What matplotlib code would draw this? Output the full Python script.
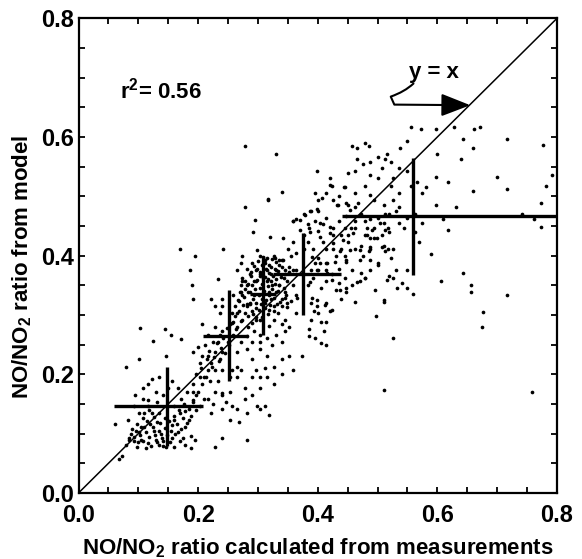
import matplotlib
matplotlib.use("Agg")
import matplotlib.pyplot as plt
from matplotlib.patches import FancyArrowPatch
from matplotlib.path import Path
import numpy as np

plt.rcParams['font.family'] = ['Liberation Sans', 'DejaVu Sans']
plt.rcParams['mathtext.default'] = 'regular'

x_meas = [
    0.278, 0.330, 0.316, 0.398, 0.278, 0.169, 0.195, 0.186, 0.189, 0.242, 0.274, 0.103, 0.124, 0.144,
    0.155, 0.172, 0.079, 0.101, 0.556, 0.572, 0.597, 0.628, 0.662, 0.671, 0.643, 0.659, 0.717, 0.777,
    0.640, 0.600, 0.618, 0.597, 0.699, 0.782, 0.792, 0.717, 0.659, 0.597, 0.631, 0.609, 0.618, 0.742,
    0.773, 0.773, 0.761, 0.590, 0.643, 0.606, 0.656, 0.656, 0.717, 0.677, 0.674, 0.758, 0.510, 0.525,
    0.497, 0.510, 0.559, 0.550, 0.532, 0.541, 0.463, 0.473, 0.479, 0.519, 0.501, 0.517, 0.522, 0.544,
    0.575, 0.550, 0.535, 0.535, 0.522, 0.522, 0.516, 0.537, 0.550, 0.507, 0.488, 0.479, 0.485, 0.457,
    0.466, 0.501, 0.513, 0.451, 0.463, 0.420, 0.423, 0.444, 0.414, 0.389, 0.401, 0.377, 0.364, 0.432,
    0.451, 0.463, 0.448, 0.414, 0.426, 0.455, 0.479, 0.488, 0.504, 0.517, 0.507, 0.494, 0.482, 0.473,
    0.463, 0.451, 0.439, 0.430, 0.448, 0.485, 0.463, 0.445, 0.436, 0.414, 0.401, 0.408, 0.401, 0.386,
    0.377, 0.392, 0.414, 0.405, 0.430, 0.436, 0.439, 0.414, 0.423, 0.401, 0.414, 0.405, 0.411, 0.395,
    0.389, 0.386, 0.405, 0.414, 0.386, 0.374, 0.340, 0.327, 0.312, 0.315, 0.303, 0.340, 0.330, 0.346,
    0.296, 0.290, 0.271, 0.265, 0.278, 0.253, 0.240, 0.247, 0.228, 0.219, 0.206, 0.197, 0.216, 0.203,
    0.191, 0.200, 0.212, 0.225, 0.216, 0.228, 0.206, 0.191, 0.222, 0.234, 0.240, 0.228, 0.237, 0.240,
    0.259, 0.262, 0.271, 0.281, 0.274, 0.265, 0.271, 0.281, 0.290, 0.303, 0.312, 0.327, 0.340, 0.355,
    0.364, 0.352, 0.364, 0.343, 0.358, 0.389, 0.383, 0.392, 0.364, 0.355, 0.340, 0.327, 0.333, 0.318,
    0.327, 0.318, 0.303, 0.346, 0.352, 0.340, 0.389, 0.398, 0.364, 0.240, 0.259, 0.250, 0.265, 0.271,
    0.281, 0.290, 0.256, 0.240, 0.234, 0.312, 0.303, 0.318, 0.299, 0.281, 0.268, 0.256, 0.240, 0.240,
    0.228, 0.281, 0.188, 0.209, 0.203, 0.191, 0.178, 0.185, 0.178, 0.188, 0.175, 0.166, 0.160, 0.170,
    0.160, 0.172, 0.182, 0.166, 0.157, 0.147, 0.150, 0.135, 0.123, 0.116, 0.129, 0.141, 0.132, 0.116,
    0.107, 0.116, 0.123, 0.135, 0.144, 0.132, 0.120, 0.107, 0.098, 0.110, 0.126, 0.138, 0.129, 0.116,
    0.104, 0.092, 0.098, 0.085, 0.079, 0.073, 0.067, 0.082, 0.061, 0.089, 0.101, 0.135, 0.147, 0.157,
    0.160, 0.113, 0.141, 0.154, 0.170, 0.178, 0.194, 0.101, 0.092, 0.095, 0.107,
    0.296, 0.303, 0.309, 0.296, 0.290, 0.284, 0.293, 0.303, 0.315, 0.321, 0.330, 0.315, 0.324, 0.336,
    0.318, 0.330, 0.306, 0.296, 0.287, 0.281, 0.278, 0.290, 0.296, 0.312, 0.321, 0.306, 0.318, 0.336,
    0.346, 0.287, 0.278, 0.271, 0.274, 0.268, 0.265, 0.256, 0.253, 0.265, 0.274, 0.284, 0.293, 0.281,
    0.303, 0.315, 0.324, 0.303, 0.290, 0.346, 0.349, 0.340,
    0.206, 0.216, 0.222, 0.228, 0.237, 0.240, 0.234, 0.237, 0.228, 0.213, 0.203, 0.191, 0.191, 0.197,
    0.216, 0.225, 0.222, 0.240, 0.253, 0.265, 0.278, 0.290, 0.303, 0.327, 0.340, 0.358, 0.352, 0.315,
    0.303, 0.265, 0.253,
    0.426, 0.439, 0.451, 0.445, 0.436, 0.463, 0.473, 0.482, 0.494, 0.501, 0.513, 0.510, 0.519, 0.488,
    0.476, 0.488, 0.488, 0.457, 0.445, 0.448, 0.457, 0.470, 0.414, 0.423, 0.401, 0.395, 0.426, 0.414,
    0.408, 0.395, 0.383, 0.358, 0.371, 0.383, 0.377, 0.401, 0.426, 0.436, 0.463, 0.479, 0.488, 0.494,
    0.510, 0.525, 0.531, 0.519, 0.535, 0.563, 0.563, 0.569, 0.575, 0.566, 0.581, 0.550, 0.556, 0.501,
    0.525, 0.535, 0.488, 0.476, 0.466, 0.488, 0.510, 0.525, 0.531, 0.525, 0.550,
]
y_model = [
    0.584, 0.572, 0.496, 0.543, 0.482, 0.411, 0.400, 0.375, 0.351, 0.411, 0.399, 0.278, 0.256, 0.276,
    0.267, 0.259, 0.213, 0.225, 0.617, 0.614, 0.614, 0.617, 0.614, 0.617, 0.596, 0.581, 0.596, 0.587,
    0.563, 0.571, 0.524, 0.533, 0.533, 0.518, 0.536, 0.512, 0.509, 0.485, 0.482, 0.461, 0.443, 0.470,
    0.488, 0.449, 0.461, 0.403, 0.370, 0.357, 0.351, 0.339, 0.333, 0.305, 0.280, 0.171, 0.173, 0.261,
    0.298, 0.322, 0.336, 0.345, 0.345, 0.354, 0.322, 0.370, 0.363, 0.366, 0.387, 0.411, 0.396, 0.447,
    0.455, 0.464, 0.482, 0.506, 0.518, 0.557, 0.572, 0.581, 0.593, 0.548, 0.536, 0.590, 0.584, 0.584,
    0.581, 0.566, 0.563, 0.539, 0.542, 0.530, 0.518, 0.515, 0.506, 0.476, 0.476, 0.470, 0.461, 0.485,
    0.485, 0.482, 0.467, 0.464, 0.447, 0.447, 0.458, 0.461, 0.455, 0.447, 0.435, 0.429, 0.435, 0.417,
    0.411, 0.423, 0.411, 0.399, 0.390, 0.408, 0.447, 0.399, 0.378, 0.387, 0.396, 0.423, 0.441, 0.447,
    0.435, 0.411, 0.357, 0.345, 0.342, 0.354, 0.327, 0.321, 0.309, 0.303, 0.288, 0.288, 0.273, 0.261,
    0.291, 0.276, 0.252, 0.249, 0.264, 0.231, 0.225, 0.213, 0.210, 0.231, 0.243, 0.255, 0.267, 0.273,
    0.207, 0.195, 0.207, 0.195, 0.177, 0.171, 0.165, 0.153, 0.171, 0.189, 0.183, 0.201, 0.207, 0.219,
    0.237, 0.246, 0.249, 0.255, 0.267, 0.279, 0.285, 0.327, 0.327, 0.360, 0.327, 0.315, 0.303, 0.315,
    0.333, 0.315, 0.339, 0.351, 0.363, 0.375, 0.387, 0.378, 0.387, 0.399, 0.393, 0.399, 0.393, 0.399,
    0.405, 0.381, 0.375, 0.363, 0.351, 0.375, 0.351, 0.363, 0.333, 0.324, 0.315, 0.315, 0.303, 0.309,
    0.291, 0.282, 0.291, 0.291, 0.279, 0.285, 0.321, 0.315, 0.303, 0.273, 0.288, 0.255, 0.237, 0.255,
    0.243, 0.225, 0.207, 0.207, 0.189, 0.147, 0.141, 0.132, 0.147, 0.135, 0.120, 0.147, 0.168, 0.093,
    0.078, 0.090, 0.075, 0.159, 0.147, 0.153, 0.138, 0.123, 0.111, 0.096, 0.093, 0.102, 0.123, 0.135,
    0.147, 0.159, 0.171, 0.177, 0.189, 0.231, 0.177, 0.195, 0.192, 0.183, 0.171, 0.165, 0.153, 0.156,
    0.159, 0.147, 0.135, 0.135, 0.126, 0.120, 0.117, 0.126, 0.117, 0.111, 0.105, 0.099, 0.090, 0.084,
    0.090, 0.087, 0.078, 0.093, 0.081, 0.063, 0.057, 0.123, 0.117, 0.108, 0.102, 0.081, 0.078, 0.093,
    0.078, 0.075, 0.087, 0.105, 0.087, 0.081, 0.090, 0.135, 0.147, 0.165, 0.177,
    0.375, 0.369, 0.363, 0.357, 0.351, 0.339, 0.333, 0.345, 0.357, 0.369, 0.375, 0.375, 0.351, 0.351,
    0.339, 0.339, 0.327, 0.321, 0.321, 0.315, 0.303, 0.306, 0.297, 0.321, 0.327, 0.384, 0.384, 0.384,
    0.375, 0.369, 0.357, 0.351, 0.333, 0.324, 0.303, 0.303, 0.285, 0.279, 0.291, 0.279, 0.273, 0.264,
    0.267, 0.261, 0.249, 0.255, 0.255, 0.339, 0.321, 0.327,
    0.231, 0.231, 0.219, 0.207, 0.225, 0.237, 0.255, 0.267, 0.237, 0.195, 0.195, 0.183, 0.171, 0.165,
    0.159, 0.150, 0.135, 0.141, 0.123, 0.141, 0.159, 0.165, 0.177, 0.183, 0.201, 0.207, 0.231, 0.195,
    0.195, 0.213, 0.195,
    0.435, 0.435, 0.435, 0.447, 0.458, 0.458, 0.470, 0.447, 0.447, 0.464, 0.470, 0.455, 0.440, 0.429,
    0.399, 0.393, 0.375, 0.375, 0.363, 0.345, 0.351, 0.357, 0.375, 0.369, 0.375, 0.387, 0.411, 0.411,
    0.453, 0.458, 0.453, 0.458, 0.444, 0.423, 0.411, 0.494, 0.494, 0.500, 0.506, 0.518, 0.503, 0.494,
    0.485, 0.494, 0.476, 0.470, 0.455, 0.470, 0.440, 0.423, 0.506, 0.524, 0.515, 0.542, 0.518, 0.530,
    0.530, 0.548, 0.557, 0.554, 0.563, 0.411, 0.417, 0.411, 0.375, 0.363, 0.375,
]

# more points read from close-ups: upper band, dense core, low cluster, lower band
pts_upper = [
    (0.295, 0.460), (0.317, 0.494), (0.340, 0.508), (0.359, 0.459), (0.370, 0.460), (0.379, 0.468),
    (0.387, 0.476), (0.398, 0.478), (0.407, 0.497), (0.395, 0.505), (0.420, 0.519), (0.446, 0.516),
    (0.404, 0.455), (0.420, 0.449), (0.434, 0.485), (0.448, 0.488), (0.468, 0.488), (0.454, 0.477),
    (0.342, 0.429), (0.359, 0.423), (0.387, 0.440), (0.404, 0.432), (0.420, 0.438), (0.426, 0.421),
    (0.443, 0.426), (0.459, 0.438), (0.479, 0.435), (0.490, 0.443), (0.499, 0.429), (0.512, 0.443),
    (0.507, 0.415), (0.487, 0.415), (0.471, 0.410), (0.454, 0.410), (0.437, 0.407), (0.448, 0.393),
    (0.429, 0.390), (0.415, 0.387), (0.404, 0.387), (0.390, 0.398), (0.398, 0.376), (0.471, 0.393),
    (0.479, 0.362), (0.465, 0.356), (0.501, 0.384), (0.512, 0.407), (0.437, 0.342), (0.448, 0.339),
    (0.423, 0.359), (0.415, 0.370), (0.387, 0.356), (0.398, 0.325), (0.412, 0.317), (0.420, 0.306),
    (0.390, 0.328), (0.359, 0.376), (0.342, 0.393), (0.351, 0.412), (0.320, 0.432), (0.329, 0.396),
    (0.312, 0.387), (0.298, 0.410), (0.292, 0.440), (0.515, 0.359), (0.496, 0.342), (0.510, 0.325),
    (0.365, 0.328), (0.393, 0.306), (0.345, 0.328), (0.348, 0.314),
]
pts_core = [
    (0.283, 0.352), (0.286, 0.338), (0.289, 0.366), (0.291, 0.327), (0.293, 0.382), (0.295, 0.344),
    (0.297, 0.312), (0.299, 0.359), (0.300, 0.391), (0.302, 0.333), (0.304, 0.373), (0.305, 0.318),
    (0.307, 0.352), (0.309, 0.386), (0.310, 0.341), (0.312, 0.364), (0.313, 0.326), (0.315, 0.396),
    (0.316, 0.348), (0.318, 0.371), (0.319, 0.333), (0.321, 0.358), (0.322, 0.381), (0.324, 0.344),
    (0.325, 0.366), (0.327, 0.329), (0.328, 0.353), (0.330, 0.389), (0.331, 0.361), (0.333, 0.340),
    (0.334, 0.374), (0.336, 0.350), (0.337, 0.322), (0.339, 0.364), (0.341, 0.381), (0.343, 0.346),
    (0.345, 0.369), (0.347, 0.334), (0.349, 0.357), (0.352, 0.372), (0.287, 0.318), (0.292, 0.302),
    (0.296, 0.292), (0.301, 0.308), (0.306, 0.296), (0.311, 0.312), (0.316, 0.302), (0.320, 0.316),
    (0.326, 0.307), (0.332, 0.318), (0.288, 0.372), (0.294, 0.358), (0.298, 0.378), (0.303, 0.366),
    (0.308, 0.398), (0.313, 0.377), (0.317, 0.361), (0.323, 0.394), (0.329, 0.377), (0.335, 0.392),
    (0.279, 0.344), (0.276, 0.330), (0.281, 0.318), (0.274, 0.358), (0.284, 0.298), (0.290, 0.286),
    (0.270, 0.338), (0.267, 0.326),
]
pts_low = [
    (0.102, 0.098), (0.108, 0.088), (0.112, 0.102), (0.118, 0.094), (0.121, 0.080), (0.125, 0.112),
    (0.128, 0.098), (0.131, 0.086), (0.134, 0.104), (0.137, 0.118), (0.139, 0.092), (0.142, 0.080),
    (0.145, 0.110), (0.148, 0.098), (0.151, 0.122), (0.153, 0.086), (0.156, 0.114), (0.159, 0.130),
    (0.162, 0.100), (0.165, 0.116), (0.168, 0.140), (0.171, 0.108), (0.174, 0.126), (0.177, 0.150),
    (0.181, 0.118), (0.184, 0.142), (0.188, 0.130), (0.192, 0.156), (0.196, 0.140), (0.200, 0.170),
    (0.096, 0.104), (0.093, 0.095), (0.099, 0.086), (0.105, 0.112), (0.115, 0.122), (0.127, 0.128),
    (0.118, 0.140), (0.110, 0.134), (0.088, 0.100), (0.084, 0.090),
]
pts_mid = [
    (0.205, 0.210), (0.210, 0.196), (0.214, 0.226), (0.218, 0.240), (0.223, 0.212), (0.226, 0.230),
    (0.231, 0.252), (0.235, 0.222), (0.238, 0.244), (0.242, 0.262), (0.245, 0.236), (0.248, 0.278),
    (0.252, 0.250), (0.256, 0.286), (0.258, 0.266), (0.262, 0.298), (0.264, 0.276), (0.268, 0.306),
    (0.272, 0.290), (0.275, 0.316),
]

# binned means with spread (crosses)
bin_x = [0.148, 0.252, 0.308, 0.375, 0.560]
bin_y = [0.147, 0.265, 0.335, 0.369, 0.466]
bin_x_lo = [0.059, 0.208, 0.287, 0.325, 0.440]
bin_x_hi = [0.208, 0.284, 0.330, 0.438, 0.800]
bin_y_lo = [0.080, 0.188, 0.267, 0.300, 0.367]
bin_y_hi = [0.213, 0.342, 0.400, 0.438, 0.564]

extra = np.array(pts_upper + pts_core + pts_low + pts_mid)
xs = np.concatenate([x_meas, extra[:, 0]])
ys = np.concatenate([y_model, extra[:, 1]])

fig = plt.figure(figsize=(5.82, 5.59), dpi=100)
ax = fig.add_axes([0.1349, 0.1181, 0.8222, 0.8492])

ax.scatter(xs, ys, s=7, c='black', marker='o', linewidths=0, zorder=2)
ax.plot([0, 0.8], [0, 0.8], color='black', lw=1.1, zorder=3)

bx = np.array(bin_x)
by = np.array(bin_y)
xerr = [bx - np.array(bin_x_lo), np.array(bin_x_hi) - bx]
yerr = [by - np.array(bin_y_lo), np.array(bin_y_hi) - by]
ax.errorbar(bx, by, xerr=xerr, yerr=yerr, fmt='none', ecolor='black',
            elinewidth=2.4, capsize=0, zorder=4)

ax.set_xlim(0, 0.8)
ax.set_ylim(0, 0.8)
ax.set_xticks([0.0, 0.2, 0.4, 0.6, 0.8])
ax.set_yticks([0.0, 0.2, 0.4, 0.6, 0.8])
ax.set_xticks(np.arange(0, 0.81, 0.05), minor=True)
ax.set_yticks(np.arange(0, 0.81, 0.05), minor=True)
ax.set_xticklabels(['0.0', '0.2', '0.4', '0.6', '0.8'])
ax.set_yticklabels(['0.0', '0.2', '0.4', '0.6', '0.8'])
ax.tick_params(which='both', direction='in', top=True, right=True,
               length=4.5, width=1.3, labelsize=17)
ax.tick_params(axis='x', pad=8)
ax.tick_params(axis='y', pad=3)
for lab in ax.get_xticklabels() + ax.get_yticklabels():
    lab.set_fontweight('bold')
for sp in ax.spines.values():
    sp.set_linewidth(1.6)

ax.set_xlabel('NO/NO$_2$ ratio calculated from measurements', fontsize=16, fontweight='bold', labelpad=7)
ax.set_ylabel('NO/NO$_2$ ratio from model', fontsize=16, fontweight='bold')
ax.yaxis.set_label_coords(-0.094, 0.476)

ax.text(0.069, 0.679, 'r$^2$= 0.56', fontsize=16, fontweight='bold', va='center', ha='left')
ax.text(0.595, 0.708, 'y = x', fontsize=16, fontweight='bold', va='center', ha='center')

arrow_path = Path([(0.560, 0.690), (0.545, 0.676), (0.522, 0.668), (0.528, 0.6545), (0.655, 0.6535)],
                  [Path.MOVETO, Path.CURVE3, Path.CURVE3, Path.LINETO, Path.LINETO])
ax.add_patch(FancyArrowPatch(path=arrow_path, arrowstyle='-|>,head_length=0.9,head_width=0.35',
                             mutation_scale=20, color='black', lw=1.5, zorder=5))

fig.savefig('out.png', dpi=100)
